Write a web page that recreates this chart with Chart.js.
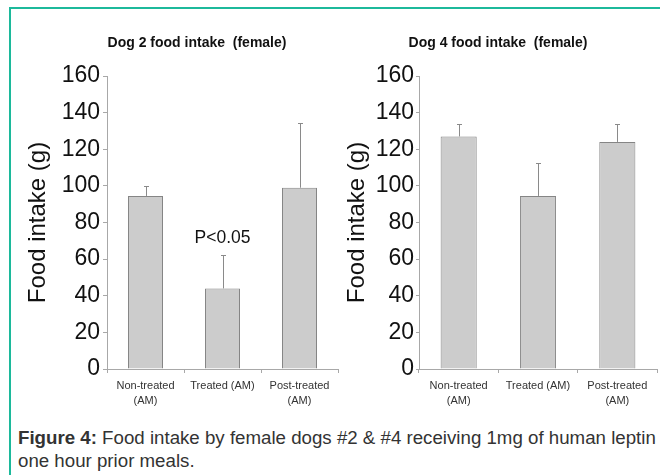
<!DOCTYPE html>
<html>
<head>
<meta charset="utf-8">
<script src="https://cdn.jsdelivr.net/npm/chart.js@4/dist/chart.umd.min.js"></script>
<style>
  html, body { margin: 0; padding: 0; background: #fff; width: 660px; height: 475px; overflow: hidden; }
  #frame { position: absolute; left: 9px; top: 7px; right: 0; bottom: 0;
           border-top: 2px solid #1cb99b; border-left: 2px solid #1cb99b; }
  #dog2 { position: absolute; left: 0; top: 0; }
  #dog4 { position: absolute; left: 330px; top: 0; }
  #caption { position: absolute; left: 18px; top: 426px; color: #333;
             font: 18.7px 'Liberation Sans', Arial, sans-serif; line-height: 23px; white-space: nowrap; }
</style>
</head>
<body>
<div id="frame"></div>
<canvas id="dog2" width="345" height="420"></canvas>
<canvas id="dog4" width="330" height="420"></canvas>
<div id="caption"><b>Figure 4:</b> Food intake by female dogs #2 &amp; #4 receiving 1mg of human leptin<br>one hour prior meals.</div>
<script>
// Treatment periods (x axis)
const categories = [['Non-treated', '(AM)'], 'Treated (AM)', ['Post-treated', '(AM)']];

// Mean food intake (g) and error (upper bar) per period
const dog2Intake = [94.5, 44, 99];
const dog2Error  = [5.5, 18, 35.5];
const dog4Intake = [127, 94.5, 124];
const dog4Error  = [7, 18, 10];

// Y axis range and tick step (g)
const yMin = 0;
const yMax = 160;
const yStep = 20;

const FONT = "'Liberation Sans', Arial, sans-serif";

// Upward error bars from the top of each bar
const errorBars = {
  id: 'errorBars',
  afterDatasetsDraw(chart, args, opts) {
    const { ctx } = chart;
    const yScale = chart.scales.y;
    const values = chart.data.datasets[0].data;
    ctx.save();
    ctx.strokeStyle = opts.color;
    ctx.lineWidth = 1;
    chart.getDatasetMeta(0).data.forEach((bar, i) => {
      const x = Math.round(bar.x) + 0.5;
      const top = Math.round(yScale.getPixelForValue(values[i] + opts.errors[i])) + 0.5;
      ctx.beginPath();
      ctx.moveTo(x, bar.y);
      ctx.lineTo(x, top);
      ctx.moveTo(x - opts.cap, top);
      ctx.lineTo(x + opts.cap, top);
      ctx.stroke();
    });
    ctx.restore();
  }
};

// Panel heading and significance note
const panelText = {
  id: 'panelText',
  afterDraw(chart, args, opts) {
    const { ctx } = chart;
    ctx.save();
    ctx.textAlign = 'center';
    ctx.textBaseline = 'middle';
    ctx.fillStyle = '#111';
    ctx.font = 'bold 14px ' + FONT;
    ctx.fillText(opts.heading, opts.headingX, opts.headingY);
    if (opts.note) {
      const bar = chart.getDatasetMeta(0).data[opts.note.index];
      ctx.font = '17.5px ' + FONT;
      ctx.fillText(opts.note.text, bar.x, chart.scales.y.getPixelForValue(opts.note.value));
    }
    ctx.restore();
  }
};

function makePanel(id, values, errors, o) {
  return new Chart(document.getElementById(id), {
    type: 'bar',
    data: {
      labels: categories,
      datasets: [{
        data: values,
        backgroundColor: '#cccccc',
        borderColor: '#858585',
        borderWidth: 1,
        categoryPercentage: 1,
        barPercentage: 0.455
      }]
    },
    options: {
      responsive: false,
      animation: false,
      devicePixelRatio: 1,
      layout: { padding: { left: 0, top: 76, right: o.padRight, bottom: 0 } },
      plugins: {
        legend: { display: false },
        tooltip: { enabled: false },
        errorBars: { errors: errors, color: '#8a8a8a', cap: 2.5 },
        panelText: { heading: o.heading, headingX: o.headingX, headingY: 43, note: o.note }
      },
      scales: {
        x: {
          afterFit(s) { s.height = 51; },
          grid: { display: true, drawOnChartArea: false, drawTicks: true, tickLength: 4, color: '#a8a8a8', offset: true },
          border: { display: true, color: '#a8a8a8', width: 1 },
          ticks: { color: '#333', padding: 6, maxRotation: 0, autoSkip: false,
                   font: { family: FONT, size: 11, lineHeight: 1.35 } }
        },
        y: {
          min: yMin,
          max: yMax,
          afterFit(s) { s.width = o.axisX; },
          grid: { display: true, drawOnChartArea: false, drawTicks: true, tickLength: o.tickLen, color: '#a8a8a8' },
          border: { display: true, color: '#a8a8a8', width: 1 },
          ticks: { stepSize: yStep, color: '#111', padding: o.tickPad, font: { family: FONT, size: 23 } },
          title: { display: true, text: 'Food intake (g)', color: '#111',
                   font: { family: FONT, size: 24 }, padding: { top: o.titlePad, bottom: 0 } }
        }
      }
    },
    plugins: [errorBars, panelText]
  });
}

makePanel('dog2', dog2Intake, dog2Error, {
  heading: 'Dog 2 food intake  (female)', headingX: 197,
  axisX: 107, padRight: 7, tickLen: 4, tickPad: 3, titlePad: 24,
  note: { text: 'P<0.05', index: 1, value: 71.5 }
});

makePanel('dog4', dog4Intake, dog4Error, {
  heading: 'Dog 4 food intake  (female)', headingX: 168,
  axisX: 89, padRight: 3, tickLen: 3, tickPad: 2, titlePad: 13,
  note: null
});
</script>
</body>
</html>
